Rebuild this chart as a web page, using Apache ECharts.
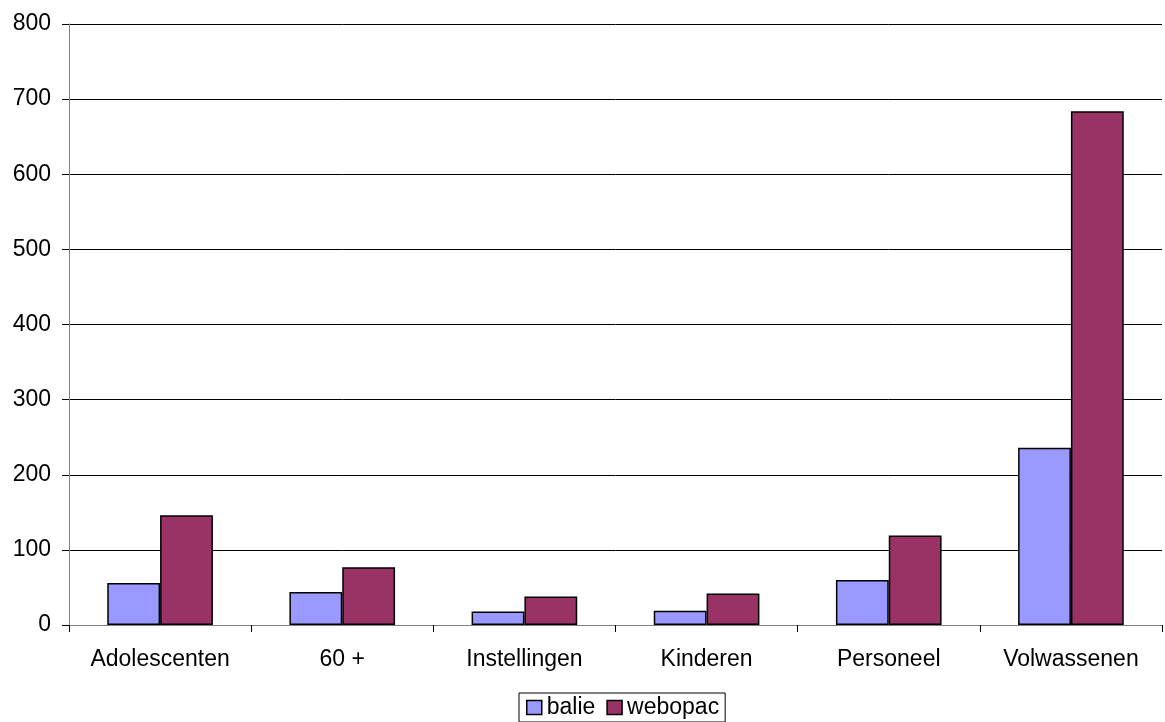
<!DOCTYPE html>
<html>
<head>
<meta charset="utf-8">
<script src="https://cdn.jsdelivr.net/npm/echarts@6/dist/echarts.min.js"></script>
<style>
  html, body { margin: 0; padding: 0; background: #fff; }
  #chart { width: 1165px; height: 722px; }
</style>
</head>
<body>
<div id="chart"></div>
<script>
const categories = ['Adolescenten', '60 +', 'Instellingen', 'Kinderen', 'Personeel', 'Volwassenen'];
const balie = [56, 44, 18, 19, 60, 236];
const webopac = [146, 77, 38, 42, 119, 684];
const yTicks = [0, 100, 200, 300, 400, 500, 600, 700, 800];

const chart = echarts.init(document.getElementById('chart'));

const barStyle = (color) => ({
  color: color,
  borderColor: '#000',
  borderWidth: 1.5,
});

chart.setOption({
  animation: false,
  textStyle: { fontFamily: 'Liberation Sans, Arial, sans-serif' },
  legend: {
    bottom: 0,
    left: 519,
    data: ['balie', 'webopac'],
    itemWidth: 15,
    itemHeight: 14,
    itemGap: 11,
    padding: [3, 6, 3, 7],
    borderColor: '#000',
    borderWidth: 1,
    textStyle: { fontSize: 23, color: '#000' },
    icon: 'rect',
    itemStyle: { borderColor: '#000', borderWidth: 1.5 },
  },
  grid: {
    left: 69,
    right: 3,
    top: 24,
    bottom: 97,
  },
  xAxis: {
    type: 'category',
    data: categories,
    axisLine: { lineStyle: { color: '#808080', width: 1 } },
    axisTick: { show: true, length: 7, lineStyle: { color: '#000' } },
    axisLabel: { fontSize: 23, color: '#000', margin: 23 },
  },
  yAxis: {
    type: 'value',
    min: yTicks[0],
    max: yTicks[yTicks.length - 1],
    interval: 100,
    axisLine: { show: true, lineStyle: { color: '#808080', width: 1 } },
    axisTick: { show: true, length: 7, lineStyle: { color: '#000' } },
    axisLabel: { fontSize: 23, color: '#000', margin: 18 },
    splitLine: { lineStyle: { color: '#000', width: 1 } },
  },
  series: [
    {
      name: 'balie',
      type: 'bar',
      data: balie,
      barGap: '0%',
      barCategoryGap: '42%',
      itemStyle: barStyle('#9999ff'),
    },
    {
      name: 'webopac',
      type: 'bar',
      data: webopac,
      barGap: '0%',
      barCategoryGap: '42%',
      itemStyle: barStyle('#993366'),
    },
  ],
});
</script>
</body>
</html>
